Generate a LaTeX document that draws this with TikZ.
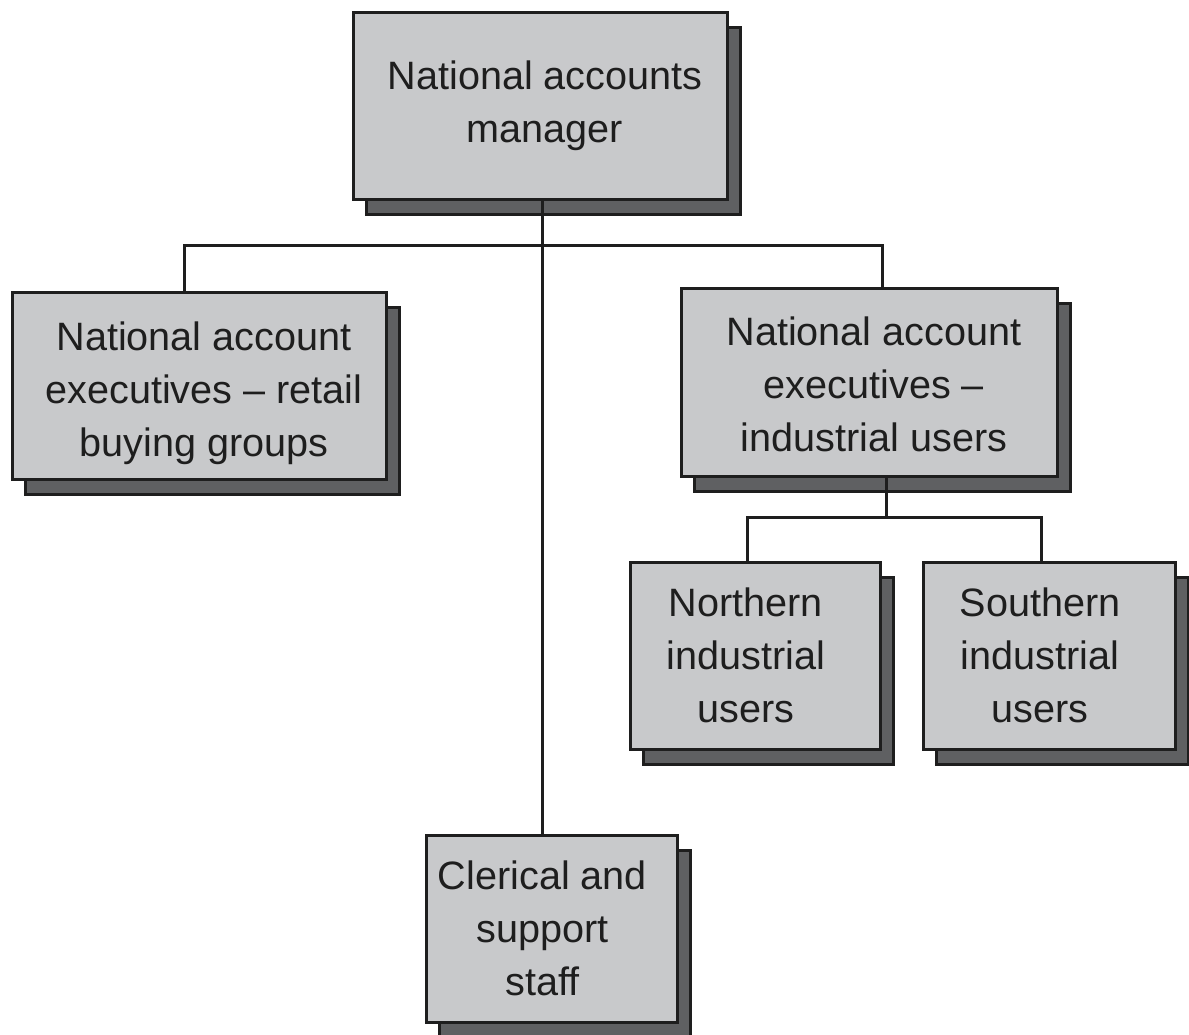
\documentclass[tikz,border=0pt]{standalone}
\usepackage{fontspec}
\setmainfont{Liberation Sans}
\usetikzlibrary{shadows}
\definecolor{boxgray}{HTML}{C8C9CB}
\definecolor{shadegray}{HTML}{5F6062}
\definecolor{inkgray}{HTML}{1E1E1E}
% centred block of lines, moved by (#1 right, #2 down) within its box
\newcommand{\shiftedlines}[3]{\hspace*{#1}\hspace*{#1}%
  \raisebox{-#2}[\height][\depth]{\begin{tabular}{@{}c@{}}#3\end{tabular}}}
\begin{document}
\begin{tikzpicture}[x=1pt,y=-1pt,
  orgbox/.style={rectangle,draw=inkgray,line width=3pt,fill=boxgray,
    inner sep=0pt,align=center,text=inkgray,
    font=\fontsize{39.6}{53}\selectfont,
    copy shadow={shadow xshift=13pt,shadow yshift=-15pt,
      fill=shadegray,draw=inkgray,line width=3pt}},
  link/.style={draw=inkgray,line width=3pt}]
  \useasboundingbox (0,0) rectangle (1189,1034);

  % boxes of the chart
  \node[orgbox,minimum width=374pt,minimum height=187pt] (top) at (540,105.5)
    {\shiftedlines{5pt}{0pt}{National accounts\\manager}};
  \node[orgbox,minimum width=374pt,minimum height=187pt] (left) at (199,385.5)
    {\shiftedlines{5pt}{7pt}{National account\\executives -- retail\\buying groups}};
  \node[orgbox,minimum width=376pt,minimum height=188pt] (right) at (869,382)
    {\shiftedlines{5pt}{6pt}{National account\\executives --\\industrial users}};
  \node[orgbox,minimum width=250pt,minimum height=187pt] (north) at (755,655.5)
    {\shiftedlines{-9pt}{3pt}{Northern\\industrial\\users}};
  \node[orgbox,minimum width=252pt,minimum height=187pt] (south) at (1049,655.5)
    {\shiftedlines{-9pt}{3pt}{Southern\\industrial\\users}};
  \node[orgbox,minimum width=251pt,minimum height=187pt] (cler) at (551.5,928.5)
    {\shiftedlines{-9pt}{3pt}{Clerical and\\support\\staff}};

  % drop points of the connectors
  \coordinate (tp) at ([xshift=2pt]top.south);
  \coordinate (lt) at ([xshift=-15pt]left.north);
  \coordinate (rt) at ([xshift=13pt]right.north);
  \coordinate (rb) at ([xshift=17pt]right.south);
  \coordinate (nt) at ([xshift=-8pt]north.north);
  \coordinate (st) at ([xshift=-8pt]south.north);

  % connectors
  \path[link] (tp) -- (tp |- cler.north);
  \path[link] (lt) -- (lt |- 0,245) -- (rt |- 0,245) -- (rt);
  \path[link] (rb) -- (rb |- 0,517);
  \path[link] (nt) -- (nt |- 0,517) -- (st |- 0,517) -- (st);
\end{tikzpicture}
\end{document}
